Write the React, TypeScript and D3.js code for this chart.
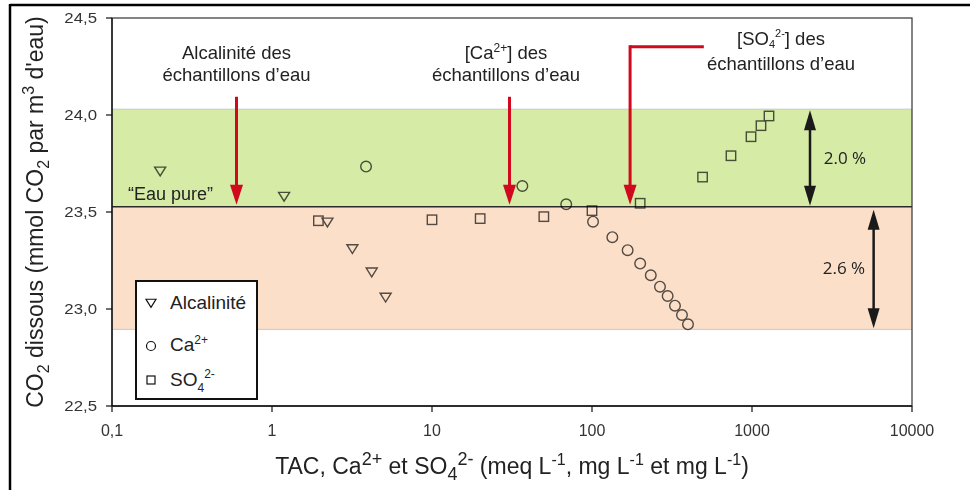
import React from "react";
import * as d3 from "d3";

const alcX = [0.2, 1.19, 2.22, 3.18, 4.2, 5.13];
const alcY = [23.71, 23.58, 23.447, 23.31, 23.19, 23.06];
const caX = [3.87, 36.7, 69, 101.5, 134, 167, 200, 233, 266, 297, 330, 365, 398];
const caY = [23.734, 23.634, 23.54, 23.45, 23.37, 23.303, 23.234, 23.174, 23.115, 23.067, 23.017, 22.969, 22.921];
const so4X = [1.95, 10, 20, 50, 100, 200, 491, 739, 986, 1138, 1277];
const so4Y = [23.455, 23.46, 23.466, 23.476, 23.507, 23.545, 23.68, 23.79, 23.888, 23.945, 23.995];
const xTicks = [0.1, 1, 10, 100, 1000, 10000];
const xTickLabels = ["0,1", "1", "10", "100", "1000", "10000"];
const yTicks = [22.5, 23.0, 23.5, 24.0, 24.5];
const yTickLabels = ["22,5", "23,0", "23,5", "24,0", "24,5"];
const eauPure = 23.527;
const upperBand = 24.03;
const lowerBand = 22.895;

const W = 970;
const H = 490;
const FONT = "'Liberation Sans', Arial, sans-serif";

export default function App() {
  const x = d3.scaleLog().domain([0.1, 10000]).range([112, 912]);
  const y = d3.scaleLinear().domain([22.5, 24.5]).range([406, 18]);
  const [x0, x1] = x.range();
  const [yb, yt] = y.range();
  const red = "#d0091f";
  const mk = "#545454";

  const tri = (cx: number, cy: number, s: number) =>
    `M${cx - s},${cy - s * 0.75}L${cx + s},${cy - s * 0.75}L${cx},${cy + s * 0.85}Z`;

  const downArrow = (ax: number, yStart: number, yTip: number) => (
    <g>
      <line x1={ax} x2={ax} y1={yStart} y2={yTip - 18} stroke={red} strokeWidth={3} />
      <polygon points={`${ax - 6.5},${yTip - 20} ${ax + 6.5},${yTip - 20} ${ax},${yTip}`} fill={red} />
    </g>
  );

  const dblArrow = (ax: number, yTop: number, yBot: number) => (
    <g>
      <line x1={ax} x2={ax} y1={yTop + 15} y2={yBot - 15} stroke="#1a1a1a" strokeWidth={2.5} />
      <polygon points={`${ax},${yTop} ${ax - 6},${yTop + 20} ${ax + 6},${yTop + 20}`} fill="#1a1a1a" />
      <polygon points={`${ax},${yBot} ${ax - 6},${yBot - 20} ${ax + 6},${yBot - 20}`} fill="#1a1a1a" />
    </g>
  );

  const yEau = y(eauPure);
  const AF = 18.5;

  return (
    <svg width={W} height={H} style={{ position: "absolute", left: 0, top: 0, background: "#fff" }} fontFamily={FONT}>
      {/* outer frame */}
      <line x1={10} x2={W} y1={5} y2={5} stroke="#000" strokeWidth={2.5} />
      <line x1={10} x2={10} y1={4} y2={H} stroke="#000" strokeWidth={2.5} />

      {/* bands */}
      <rect x={x0} y={y(upperBand)} width={x1 - x0} height={yEau - y(upperBand)} fill="#d5eba6" />
      <rect x={x0} y={yEau} width={x1 - x0} height={y(lowerBand) - yEau} fill="#fbdfc8" />
      <line x1={x0} x2={x1} y1={y(upperBand)} y2={y(upperBand)} stroke="#c8c8c8" strokeWidth={1} />
      <line x1={x0} x2={x1} y1={y(lowerBand)} y2={y(lowerBand)} stroke="#c8c8c8" strokeWidth={1} />
      <line x1={x0} x2={x1} y1={yEau} y2={yEau} stroke="#2a2a2a" strokeWidth={1.5} />

      {/* frame */}
      <rect x={x0} y={yt} width={x1 - x0} height={yb - yt} fill="none" stroke="#333" strokeWidth={1.2} />
      <line x1={x0} x2={x1} y1={yb} y2={yb} stroke="#111" strokeWidth={1.3} />
      <line x1={x0} x2={x0} y1={yt} y2={yb} stroke="#111" strokeWidth={1.3} />

      {/* y ticks */}
      {yTicks.map((t, i) => (
        <g key={"y" + i}>
          <line x1={x0 - 6} x2={x0} y1={y(t)} y2={y(t)} stroke="#111" strokeWidth={1.2} />
          <g transform={`translate(${x0 - 15},${y(t) + 5}) scale(1.2,1)`}>
            <text textAnchor="end" fontSize={14} fill="#333">
              {yTickLabels[i]}
            </text>
          </g>
        </g>
      ))}
      {/* x ticks */}
      {xTicks.map((t, i) => (
        <g key={"x" + i}>
          <line x1={x(t)} x2={x(t)} y1={yb} y2={yb + 6} stroke="#111" strokeWidth={1.2} />
          <text x={x(t)} y={yb + 30} textAnchor="middle" fontSize={16} fill="#333">
            {xTickLabels[i]}
          </text>
        </g>
      ))}

      {/* axis titles */}
      <text x={(x0 + x1) / 2} y={474} textAnchor="middle" fontSize={23} fill="#222">
        TAC, Ca<tspan dy={-9} fontSize={18}>2+</tspan>
        <tspan dy={9}> et SO</tspan>
        <tspan dy={6} fontSize={18}>4</tspan>
        <tspan dy={-15} fontSize={18}>2-</tspan>
        <tspan dy={9}> (meq L</tspan>
        <tspan dy={-9} fontSize={16}>-1</tspan>
        <tspan dy={9}>, mg L</tspan>
        <tspan dy={-9} fontSize={16}>-1</tspan>
        <tspan dy={9}> et mg L</tspan>
        <tspan dy={-9} fontSize={16}>-1</tspan>
        <tspan dy={9}>)</tspan>
      </text>
      <text transform={`translate(43,${(yt + yb) / 2}) rotate(-90)`} textAnchor="middle" fontSize={23} fill="#222">
        CO<tspan dy={6} fontSize={16}>2</tspan>
        <tspan dy={-6}> dissous (mmol CO</tspan>
        <tspan dy={6} fontSize={16}>2</tspan>
        <tspan dy={-6}> par m</tspan>
        <tspan dy={-9} fontSize={16}>3</tspan>
        <tspan dy={9}> d'eau)</tspan>
      </text>

      {/* annotations */}
      <text x={x(0.6)} y={59} textAnchor="middle" fontSize={AF} fill="#222">Alcalinité des</text>
      <text x={x(0.6)} y={81} textAnchor="middle" fontSize={AF} fill="#222">échantillons d’eau</text>
      {downArrow(x(0.6), y(24.094), yEau - 2)}

      <text x={x(29)} y={59} textAnchor="middle" fontSize={AF} fill="#222">
        [Ca<tspan dy={-7} fontSize={12}>2+</tspan>
        <tspan dy={7}>] des</tspan>
      </text>
      <text x={x(29)} y={81} textAnchor="middle" fontSize={AF} fill="#222">échantillons d’eau</text>
      {downArrow(x(30.5), y(24.094), yEau - 2)}

      <text x={781} y={45} textAnchor="middle" fontSize={AF} fill="#222">
        [SO<tspan dy={3} fontSize={11}>4</tspan>
        <tspan dy={-11} fontSize={11}>2-</tspan>
        <tspan dy={8}>] des</tspan>
      </text>
      <text x={781} y={70} textAnchor="middle" fontSize={AF} fill="#222">échantillons d’eau</text>
      <line x1={x(500)} x2={x(173)} y1={y(24.352)} y2={y(24.352)} stroke={red} strokeWidth={3} />
      {downArrow(x(173), y(24.352) - 1.5, yEau - 2)}

      <text x={128} y={y(eauPure) - 7} fontSize={18} fill="#222">“Eau pure”</text>

      {dblArrow(x(2304), y(upperBand) + 1, yEau - 1)}
      {dblArrow(x(5757), yEau + 3, y(lowerBand) - 1)}
      <text x={845} y={164} textAnchor="middle" fontSize={17} fontFamily="'Open Sans', sans-serif" fill="#222">2.0 %</text>
      <text x={844} y={274} textAnchor="middle" fontSize={17} fontFamily="'Open Sans', sans-serif" fill="#222">2.6 %</text>

      {/* data */}
      <g style={{ mixBlendMode: "multiply" }} fill="none" stroke={mk} strokeWidth={1.4}>
        {alcX.map((v, i) => (
          <path key={"a" + i} d={tri(x(v), y(alcY[i]), 5.5)} />
        ))}
        {caX.map((v, i) => (
          <circle key={"c" + i} cx={x(v)} cy={y(caY[i])} r={5.3} />
        ))}
        {so4X.map((v, i) => (
          <rect key={"s" + i} x={x(v) - 4.7} y={y(so4Y[i]) - 4.7} width={9.4} height={9.4} />
        ))}
      </g>

      {/* legend */}
      <rect x={136} y={281} width={121} height={118} fill="#fff" stroke="#111" strokeWidth={2} />
      <path d={tri(151, 303, 5)} fill="none" stroke="#111" strokeWidth={1.2} />
      <text x={170} y={309} fontSize={19} fill="#222">Alcalinité</text>
      <circle cx={151} cy={346} r={4.5} fill="none" stroke="#111" strokeWidth={1.2} />
      <text x={170} y={351} fontSize={19} fill="#222">
        Ca<tspan dy={-7} fontSize={12}>2+</tspan>
      </text>
      <rect x={147} y={376} width={8} height={8} fill="none" stroke="#111" strokeWidth={1.2} />
      <text x={170} y={386} fontSize={19} fill="#222">
        SO<tspan dy={6} fontSize={12}>4</tspan>
        <tspan dy={-14} fontSize={12}>2-</tspan>
      </text>
    </svg>
  );
}
